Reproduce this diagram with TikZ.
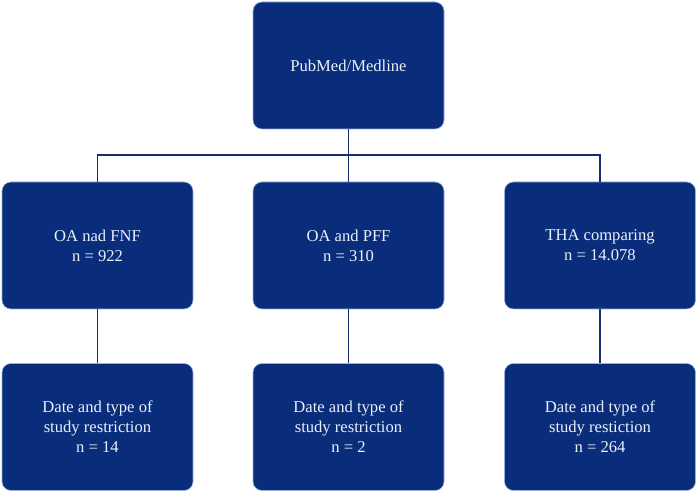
\documentclass[tikz,border=0pt]{standalone}
\usepackage{fontspec}
\setmainfont{Liberation Serif}
\definecolor{navy}{RGB}{9,45,122}
\definecolor{edgeblue}{RGB}{150,175,220}
\definecolor{linenavy}{RGB}{25,45,110}
\definecolor{boxtext}{RGB}{235,240,250}
\begin{document}
\begin{tikzpicture}[x=1pt,y=1pt,
  box/.style={rectangle, rounded corners=9pt, fill=navy, draw=edgeblue, line width=0.6pt,
    minimum width=191pt, minimum height=127pt, align=center, text=boxtext,
    font=\fontsize{16.6}{20}\selectfont, inner sep=0pt},
  conn/.style={draw=linenavy, line width=1.2pt}]
\useasboundingbox (0,0) rectangle (698,492);
\node[box] (top) at (348.5,426.5) {PubMed/Medline};
\node[box] (m1) at (97.5,246.5) {OA nad FNF\\n = 922};
\node[box] (m2) at (348.5,246.5) {OA and PFF\\n = 310};
\node[box] (m3) at (600,246.5) {THA comparing\\n = 14.078};
\node[box] (b1) at (97.5,65) {Date and type of\\study restriction\\n = 14};
\node[box] (b2) at (348.5,65) {Date and type of\\study restriction\\n = 2};
\node[box] (b3) at (600,65) {Date and type of\\study restiction\\n = 264};
\coordinate (bus) at (348.5,337);
\draw[conn] (top.south) -- (top.south |- bus);
\draw[conn] (m1.north) |- (m3.north |- bus) -- (m3.north);
\draw[conn] (m2.north) -- (m2.north |- bus);
\draw[conn] (m1.south) -- (b1.north);
\draw[conn] (m2.south) -- (b2.north);
\draw[conn] (m3.south) -- (b3.north);
\end{tikzpicture}
\end{document}
